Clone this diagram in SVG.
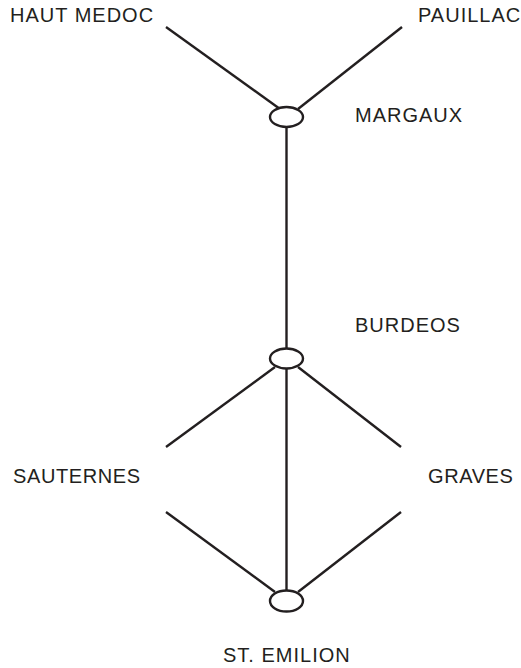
<svg xmlns="http://www.w3.org/2000/svg" width="521" height="668" viewBox="0 0 521 668">
  <style>
    .edge { stroke: #231f20; stroke-width: 2.4; fill: none; stroke-linecap: butt; }
    .hub { fill: #ffffff; stroke: #231f20; stroke-width: 2.4; }
    .label { font-family: "Liberation Sans", Arial, sans-serif; font-size: 20px; fill: #231f20; letter-spacing: 1px; }
    .tight { letter-spacing: 0.6px; }
  </style>
  <rect width="521" height="668" fill="#ffffff"/>

  <g id="connectors">
    <line class="edge" x1="166" y1="27" x2="280" y2="109"/>
    <line class="edge" x1="402" y1="27" x2="298" y2="109"/>
    <line class="edge" x1="286.5" y1="127" x2="286.5" y2="348"/>
    <line class="edge" x1="275" y1="367" x2="166" y2="447"/>
    <line class="edge" x1="298" y1="367" x2="401" y2="447"/>
    <line class="edge" x1="286.5" y1="369" x2="286.5" y2="590"/>
    <line class="edge" x1="166" y1="512" x2="275" y2="592"/>
    <line class="edge" x1="401" y1="512" x2="298" y2="592"/>
  </g>

  <g id="haut-medoc"><text class="label" x="10" y="22">HAUT MEDOC</text></g>
  <g id="pauillac"><text class="label" x="418" y="22">PAUILLAC</text></g>
  <g id="margaux">
    <ellipse class="hub" cx="286.5" cy="117" rx="16.5" ry="10"/>
    <text class="label" x="355" y="122">MARGAUX</text>
  </g>
  <g id="burdeos">
    <ellipse class="hub" cx="286.5" cy="358.5" rx="16.5" ry="10"/>
    <text class="label" x="355" y="332">BURDEOS</text>
  </g>
  <g id="sauternes"><text class="label tight" x="13" y="483">SAUTERNES</text></g>
  <g id="graves"><text class="label tight" x="428" y="483">GRAVES</text></g>
  <g id="st-emilion">
    <ellipse class="hub" cx="286.5" cy="601" rx="16.5" ry="10.5"/>
    <text class="label" x="223" y="662">ST. EMILION</text>
  </g>
</svg>
